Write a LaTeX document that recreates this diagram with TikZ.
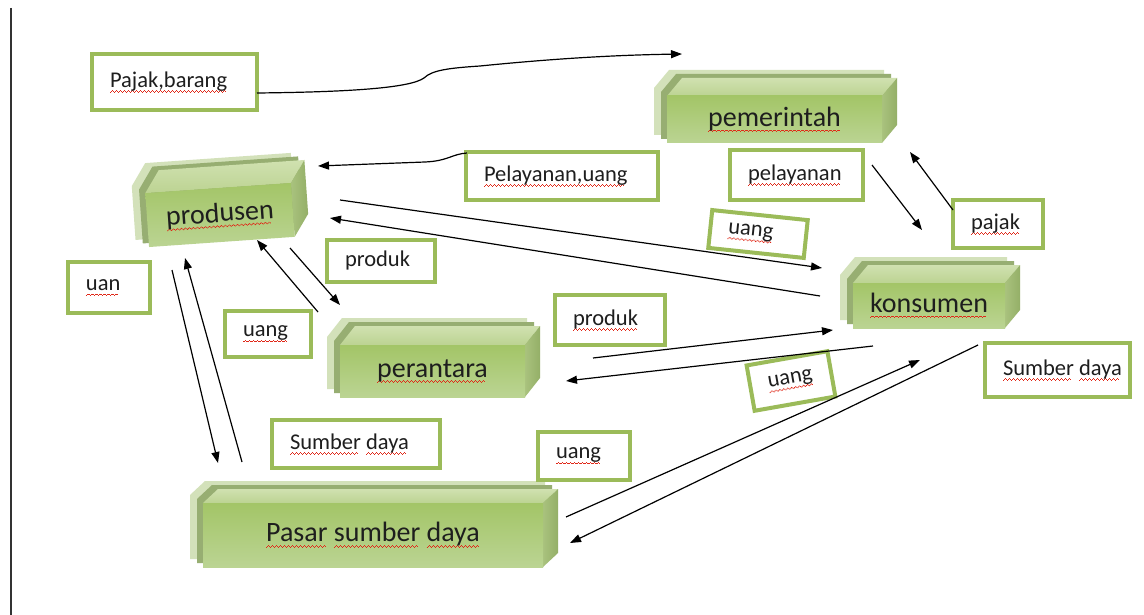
\documentclass[tikz,border=0pt]{standalone}
\usepackage{fontspec}
\setmainfont{Carlito}
\usetikzlibrary{arrows.meta}
\definecolor{lblgreen}{HTML}{9BBB59}
\definecolor{squig}{HTML}{E02818}
\definecolor{txt}{HTML}{1E1E1E}
\definecolor{frT}{HTML}{A3C567}
\definecolor{frM}{HTML}{98BB56}
\definecolor{frB}{HTML}{BBD493}
\definecolor{tpT}{HTML}{D0E1B0}
\definecolor{tpB}{HTML}{BCD392}
\definecolor{rtL}{HTML}{A9C27E}
\definecolor{rtR}{HTML}{94AF67}
\definecolor{shA}{HTML}{D3E1BA}
\definecolor{shB}{HTML}{97AE72}
\newlength\sqw
\newcommand\sq[1]{\settowidth\sqw{#1}\rlap{\raisebox{-5.5pt}{\color{squig}\leaders\hbox{\rule[0pt]{1pt}{0.8pt}\rule[0.7pt]{1pt}{0.8pt}\rule[1.4pt]{1pt}{0.8pt}\rule[0.7pt]{1pt}{0.8pt}}\hskip\sqw}}#1}
\newcommand\wsp{\hskip\fontdimen2\font\relax}
\tikzset{
  lblbox/.style={draw=lblgreen, line width=4pt, fill=white, inner sep=0pt, align=left,
    text=txt, font=\fontsize{22.5}{26}\selectfont},
  bartxt/.style={inner sep=0pt, text=txt, font=\fontsize{28}{32}\selectfont},
  arr/.style={line width=1.2pt, black, -{Triangle[length=11pt,width=8pt]}}
}
\newcommand\silpath[1]{\fill[#1] (\xa,\ya) -- (\xa+\dx,\ya-\dy) -- (\xb+\dx,\ya-\dy) -- (\xb+\dx,\yb-\dy) -- (\xb,\yb) -- (\xa,\yb) -- cycle;}
% name, x1, y1, x2, y2, text, rotation, depth
\newcommand\gbar[8]{%
  \def\xa{#2}\def\ya{#3}\def\xb{#4}\def\yb{#5}\def\dy{#8}\def\dx{15}%
  \begin{scope}[rotate around={#7:({(#2+#4)/2},{(#3+#5)/2})}]
    \begin{scope}[shift={(-13,-8)}]\silpath{shA}\end{scope}
    \begin{scope}[shift={(-6,-4)}]\silpath{shB}\end{scope}
    \shade[top color=tpT, bottom color=tpB] (\xa,\ya) -- (\xa+\dx,\ya-\dy) -- (\xb+\dx,\ya-\dy) -- (\xb,\ya) -- cycle;
    \shade[left color=rtL, right color=rtR] (\xb,\ya) -- (\xb+\dx,\ya-\dy) -- (\xb+\dx,\yb-\dy) -- (\xb,\yb) -- cycle;
    \shade[top color=frT, middle color=frM, bottom color=frB] (\xa,\ya) rectangle (\xb,\yb);
  \end{scope}
  \node[bartxt, rotate=#7] (#1) at ({(#2+#4)/2},{(#3+#5)/2}) {#6};%
}
% name, cx, cy, w, h, rot, text
\newcommand\lbl[7]{%
  \pgfmathsetmacro\tw{#4-12}%
  \node[lblbox, minimum width=#4pt, minimum height=#5pt, text width=\tw pt, rotate=#6] (#1) at (#2,#3) {\hspace*{12pt}#7};%
}
\begin{document}
\begin{tikzpicture}[x=1pt,y=-1pt]
\useasboundingbox (0,0) rectangle (1144,615);
\fill[white] (0,0) rectangle (1144,615);
\coordinate (vtop) at (11,8);
\coordinate (vbot) at (11,615);
\draw[line width=1.6pt, black!80] (vtop) -- (vbot);

% bars
\gbar{pem}{667}{96}{882}{143}{\sq{pemerintah}}{0}{18}
\gbar{prod}{147}{188}{293}{242}{\sq{produsen}}{4}{22}
\gbar{kon}{853}{283}{1005}{328}{\sq{konsumen}}{0}{18}
\gbar{per}{340}{345}{525}{397}{\sq{perantara}}{0}{19}
\gbar{pasar}{203}{503}{543}{567}{\sq{Pasar} \sq{sumber} \sq{daya}}{0}{14}

% labels
\lbl{lpb}{174.5}{82}{165}{56}{0}{\sq{Pajak,barang}}
\lbl{lpu}{562}{176}{192}{48}{0}{\sq{Pelayanan,uang}}
\lbl{lpel}{796.5}{175}{133}{50}{0}{\sq{pelayanan}}
\lbl{lpaj}{998}{224}{90}{48}{0}{\sq{pajak}}
\lbl{lu1}{758}{234}{96}{38}{-6}{\sq{uang}}
\lbl{lprod1}{381}{261}{108}{42}{0}{produk}
\lbl{luan}{109}{287.5}{82}{51}{0}{\sq{uan}}
\lbl{lu2}{268}{334}{86}{46}{0}{\sq{uang}}
\lbl{lprod2}{610}{320}{110}{50}{0}{\sq{produk}}
\lbl{lu3}{791}{381}{82}{46}{10}{\sq{uang}}
\lbl{lsd1}{1057.5}{370}{145}{54}{0}{\sq{Sumber}\wsp\sq{daya}}
\lbl{lsd2}{356}{444}{168}{48}{0}{\sq{Sumber}\wsp\sq{daya}}
\lbl{lu4}{584}{456}{92}{48}{0}{\sq{uang}}

% arrow end points
\coordinate (a1s) at (257,93);   \coordinate (a1e) at (682,54);
\coordinate (a2s) at (467,153);  \coordinate (a2e) at (318,166);
\coordinate (a3s) at (340,200);  \coordinate (a3e) at (822,268);
\coordinate (a4s) at (820,296);  \coordinate (a4e) at (330,218);
\coordinate (a5s) at (872,165);  \coordinate (a5e) at (922,230);
\coordinate (a6s) at (953,210);  \coordinate (a6e) at (910,152);
\coordinate (a7s) at (318,312);  \coordinate (a7e) at (257,240);
\coordinate (a8s) at (290,248);  \coordinate (a8e) at (340,305);
\coordinate (a9s) at (172,270);  \coordinate (a9e) at (218,463);
\coordinate (a10s) at (242,462); \coordinate (a10e) at (185,258);
\coordinate (a11s) at (593,358); \coordinate (a11e) at (833,330);
\coordinate (a12s) at (873,346); \coordinate (a12e) at (566,381);
\coordinate (a13s) at (566,517); \coordinate (a13e) at (920,360);
\coordinate (a14s) at (978,345); \coordinate (a14e) at (570,543);

\draw[arr] (a1s) .. controls (350,92) and (410,88) .. (424,78) .. controls (432,70) and (450,68) .. (480,66) .. controls (560,58) and (620,55) .. (a1e);
\draw[arr] (a2s) .. controls (452,154) and (448,161) .. (425,162) -- (a2e);
\draw[arr] (a3s) -- (a3e);
\draw[arr] (a4s) -- (a4e);
\draw[arr] (a5s) -- (a5e);
\draw[arr] (a6s) -- (a6e);
\draw[arr] (a7s) -- (a7e);
\draw[arr] (a8s) -- (a8e);
\draw[arr] (a9s) -- (a9e);
\draw[arr] (a10s) -- (a10e);
\draw[arr] (a11s) -- (a11e);
\draw[arr] (a12s) -- (a12e);
\draw[arr] (a13s) -- (a13e);
\draw[arr] (a14s) -- (a14e);
\end{tikzpicture}
\end{document}
